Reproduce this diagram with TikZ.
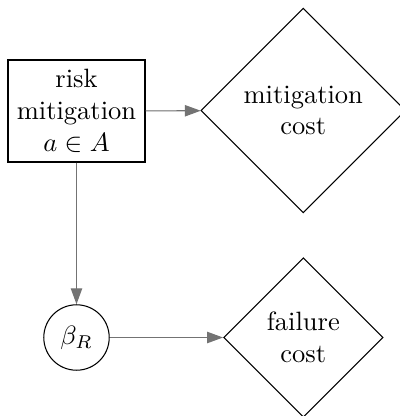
\documentclass[tikz,border=0pt]{standalone}
\usetikzlibrary{shapes.geometric,arrows.meta}
\tikzset{
  px/.style={x=0.3774pt,y=-0.3774pt},
  decision/.style={draw,rectangle,align=center,minimum width=51.7pt,minimum height=38.5pt,inner sep=3.33pt},
  chance/.style={draw,circle,minimum size=24.7pt,inner sep=0pt},
  utility/.style={draw,diamond,align=center,inner sep=0pt},
  link/.style={draw=black!55,-{Triangle[length=6pt,width=4.3pt]},fill=black!55}
}
\begin{document}
\begin{tikzpicture}[px]
\useasboundingbox (0,0) rectangle (399,416);
\node[decision] (rm) at (76.5,111) {risk\\mitigation\\$a\in A$};
\node[utility,minimum width=77.2pt,minimum height=77.2pt] (mc) at (303.3,110.5) {mitigation\\cost};
\node[chance] (beta) at (76.5,337.5) {$\beta_R$};
\node[utility,minimum width=60.2pt,minimum height=60.2pt] (fc) at (303.3,337.5) {failure\\cost};
\draw[link] (rm) -- (mc);
\draw[link] (rm) -- (beta);
\draw[link] (beta) -- (fc);
\end{tikzpicture}
\end{document}
